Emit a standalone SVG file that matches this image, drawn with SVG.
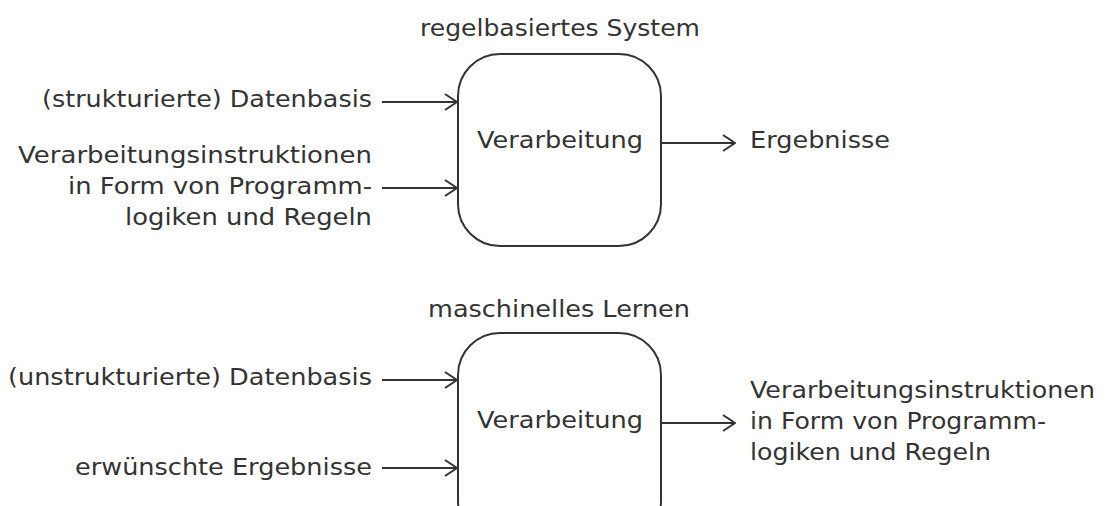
<svg xmlns="http://www.w3.org/2000/svg" width="1110" height="506" viewBox="0 0 1110 506">
  <defs>
    <style>
      text { font-family: "DejaVu Sans", "Liberation Sans", sans-serif; font-size: 22.5px; fill: #333; }
      .box { fill: #fff; stroke: #333; stroke-width: 2; }
      .edge { stroke: #333; stroke-width: 2; fill: none; }
      .r { text-anchor: end; }
      .m { text-anchor: middle; }
    </style>
    <marker id="arr" viewBox="0 0 14 18" markerWidth="14" markerHeight="18" refX="13" refY="9" orient="auto" markerUnits="userSpaceOnUse">
      <path d="M1,1 L13,9 L1,17" fill="none" stroke="#333" stroke-width="2"/>
    </marker>
  </defs>
  <rect width="1110" height="506" fill="#fff"/>

  <g id="rule-system">
    <text class="m" x="560" y="36" textLength="280" lengthAdjust="spacingAndGlyphs">regelbasiertes System</text>
    <rect class="box" x="458" y="54" width="203" height="192" rx="42" ry="42"/>
    <text class="m" x="560" y="148" textLength="166" lengthAdjust="spacingAndGlyphs">Verarbeitung</text>
  </g>
  <g id="rule-in1">
    <text class="r" x="372" y="107" textLength="330" lengthAdjust="spacingAndGlyphs">(strukturierte) Datenbasis</text>
  </g>
  <g id="rule-in2">
    <text class="r" x="372" y="163" textLength="354" lengthAdjust="spacingAndGlyphs">Verarbeitungsinstruktionen</text>
    <text class="r" x="372" y="194" textLength="304" lengthAdjust="spacingAndGlyphs">in Form von Programm-</text>
    <text class="r" x="372" y="225" textLength="247" lengthAdjust="spacingAndGlyphs">logiken und Regeln</text>
  </g>
  <g id="rule-out">
    <text x="750" y="148" textLength="140" lengthAdjust="spacingAndGlyphs">Ergebnisse</text>
  </g>

  <g id="ml-system">
    <text class="m" x="559" y="317" textLength="262" lengthAdjust="spacingAndGlyphs">maschinelles Lernen</text>
    <rect class="box" x="458" y="333" width="203" height="210" rx="42" ry="42"/>
    <text class="m" x="560" y="428" textLength="166" lengthAdjust="spacingAndGlyphs">Verarbeitung</text>
  </g>
  <g id="ml-in1">
    <text class="r" x="372" y="385" textLength="364" lengthAdjust="spacingAndGlyphs">(unstrukturierte) Datenbasis</text>
  </g>
  <g id="ml-in2">
    <text class="r" x="372" y="475" textLength="297" lengthAdjust="spacingAndGlyphs">erwünschte Ergebnisse</text>
  </g>
  <g id="ml-out">
    <text x="750" y="398" textLength="345" lengthAdjust="spacingAndGlyphs">Verarbeitungsinstruktionen</text>
    <text x="750" y="429" textLength="296" lengthAdjust="spacingAndGlyphs">in Form von Programm-</text>
    <text x="750" y="460" textLength="241" lengthAdjust="spacingAndGlyphs">logiken und Regeln</text>
  </g>

  <g id="connectors">
    <line class="edge" x1="382" y1="102" x2="457" y2="102" marker-end="url(#arr)"/>
    <line class="edge" x1="382" y1="188" x2="457" y2="188" marker-end="url(#arr)"/>
    <line class="edge" x1="661" y1="143" x2="735" y2="143" marker-end="url(#arr)"/>
    <line class="edge" x1="382" y1="380" x2="457" y2="380" marker-end="url(#arr)"/>
    <line class="edge" x1="382" y1="468" x2="457" y2="468" marker-end="url(#arr)"/>
    <line class="edge" x1="661" y1="423" x2="735" y2="423" marker-end="url(#arr)"/>
  </g>
</svg>
